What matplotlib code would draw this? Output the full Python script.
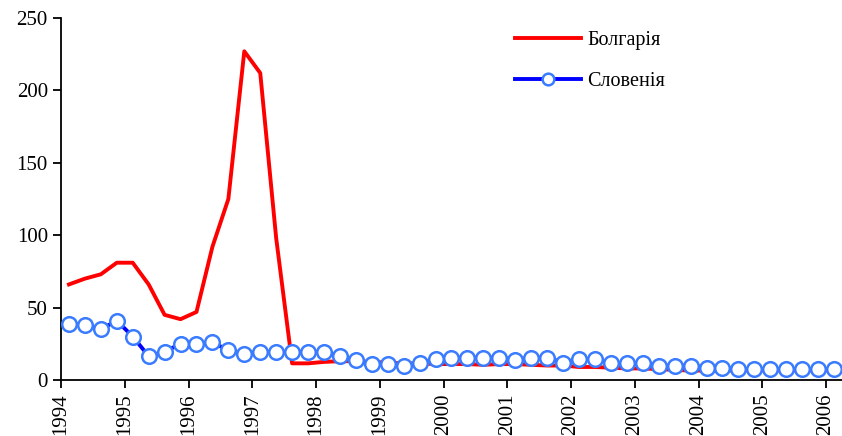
import matplotlib
matplotlib.use("Agg")
import matplotlib.pyplot as plt
import numpy as np

# quarterly, 1994Q1 .. 2006Q1
years = list(range(1994, 2007))
bulgaria = [66, 70, 73, 81, 81, 66, 45, 42, 47, 92, 125, 227, 212, 98,
            11.5, 11.5, 12.5, 13, 13, 12.5, 12, 11.5, 11.5, 11, 11, 11, 10.5, 11,
            11, 10.5, 10, 10, 9, 9, 8.5, 8, 8, 7.5, 7, 6.5, 6.5, 6.5, 6.5, 6.5,
            6.5, 6.5, 6.5, 6.5, 6.5]
slovenia = [39, 38, 35, 41, 30, 16.5, 19.5, 25, 25, 26, 20.5, 18, 19.5, 19.5,
            19.5, 19.5, 19.5, 16.5, 14, 11, 11, 10, 11.5, 14.5, 15.5, 15.5, 15.5, 15.5,
            14, 15.5, 15.5, 12, 14.5, 14.5, 11.5, 11.5, 11.5, 10, 10, 10, 8.5, 8.5,
            7.5, 7.5, 7.5, 7.5, 7.5, 7.5, 7.5]

plt.rcParams["font.family"] = ["Liberation Serif", "DejaVu Serif"]

fig = plt.figure(figsize=(8.42, 4.36), dpi=100)
ax = fig.add_axes([61 / 842, 56 / 436, 781 / 842, 362 / 436])

x = np.arange(len(bulgaria))
ax.plot(x, bulgaria, color="#ff0000", lw=2.8, label="Болгарія", zorder=2)
ax.plot(x, slovenia, color="#0000ff", lw=2.8, marker="o", ms=10.5,
        mfc="white", mec="#3a7cff", mew=1.8, label="Словенія", zorder=3)

ax.set_xlim(-0.5, len(bulgaria) - 0.5)
ax.set_ylim(0, 250)
ax.set_yticks(range(0, 251, 50))
ax.set_xticks(np.arange(-0.5, len(bulgaria) - 0.5, 4))
ax.set_xticklabels([str(y) for y in years], rotation=90)
ax.tick_params(labelsize=15, direction="out", length=6, width=1.3, color="black")
for s in ("top", "right"):
    ax.spines[s].set_visible(False)
for s in ("left", "bottom"):
    ax.spines[s].set_linewidth(1.3)

ax.legend(loc="upper left", bbox_to_anchor=(515 / 842, 1 - 31 / 436),
          bbox_transform=fig.transFigure, frameon=False, fontsize=14.5,
          handlelength=3.3, handletextpad=0.3, labelspacing=1.1, numpoints=1,
          borderaxespad=0, borderpad=0, markerscale=0.8)

fig.savefig("out.png", dpi=100)
